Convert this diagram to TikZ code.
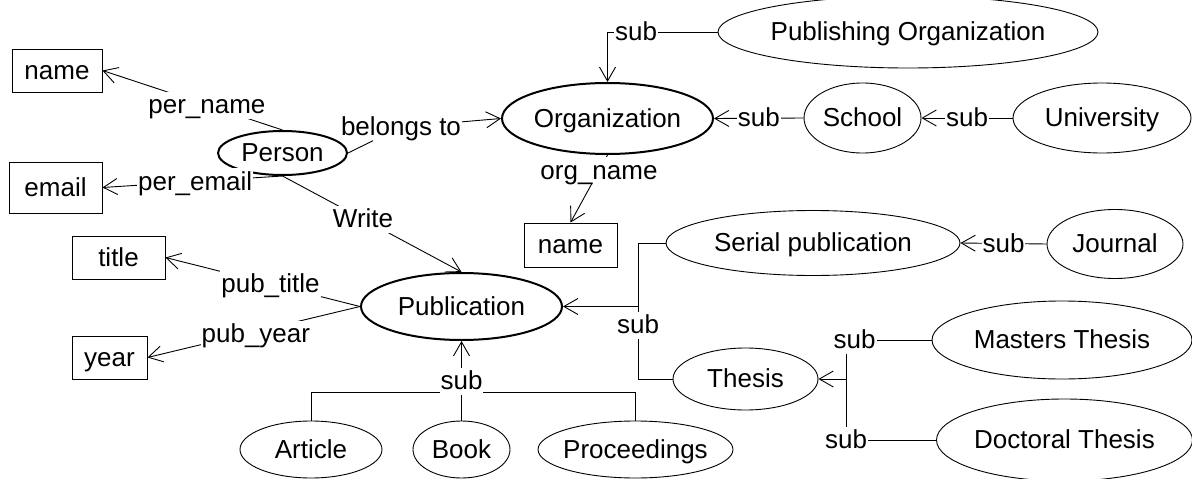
\documentclass[tikz,border=0pt]{standalone}
\usepackage{fontspec}
\setmainfont{Liberation Sans}
\usetikzlibrary{arrows.meta,shapes.geometric}
\begin{document}
\begin{tikzpicture}[x=1pt,y=-1pt,
  every node/.style={font=\fontsize{26}{30}\selectfont, text height=22pt, text depth=5pt},
  ent/.style={draw, ellipse, inner sep=0pt, line width=0.9pt},
  mainent/.style={ent, line width=2pt},
  attr/.style={draw, rectangle, inner sep=0pt, line width=0.9pt},
  conn/.style={line width=0.9pt},
  arr/.style={conn, -{Straight Barb[length=14pt,width=16pt]}},
  lbl/.style={fill=white, inner xsep=1pt, inner ysep=0pt},
]
\useasboundingbox (0,0) rectangle (1192,479);

% attribute boxes
\node[attr, minimum width=90pt, minimum height=43pt] (nameP) at (57,70.5) {name};
\node[attr, minimum width=93pt, minimum height=51pt] (email) at (55.5,187.5) {email};
\node[attr, minimum width=93pt, minimum height=43pt] (title) at (118.5,257.5) {title};
\node[attr, minimum width=75pt, minimum height=43pt] (year) at (109.5,357.5) {year};
\node[attr, minimum width=93pt, minimum height=44pt] (nameO) at (570.5,245) {name};

% entities
\node[mainent, minimum width=129pt, minimum height=44pt] (person) at (282.5,153) {Person};
\node[mainent, minimum width=211pt, minimum height=71pt] (org) at (607.5,118.5) {Organization};
\node[ent, inner xsep=-4pt, minimum width=380pt, minimum height=72pt] (puborg) at (908,32) {Publishing Organization};
\node[ent, minimum width=117pt, minimum height=70pt] (school) at (862.5,118) {School};
\node[ent, minimum width=178pt, minimum height=70pt] (univ) at (1102,118) {University};
\node[ent, minimum width=294pt, minimum height=65pt] (serial) at (813,243) {Serial publication};
\node[ent, minimum width=136pt, minimum height=69pt] (journal) at (1115,244) {Journal};
\node[mainent, minimum width=201pt, minimum height=67pt] (pub) at (461.5,306.5) {Publication};
\node[ent, minimum width=145pt, minimum height=62pt] (thesis) at (745.5,379) {Thesis};
\node[ent, minimum width=260pt, minimum height=78pt] (masters) at (1062,340) {Masters Thesis};
\node[ent, inner xsep=-4pt, minimum width=256pt, minimum height=82pt] (doctoral) at (1064.5,440) {Doctoral Thesis};
\node[ent, minimum width=142pt, minimum height=57pt] (article) at (311,449.5) {Article};
\node[ent, minimum width=97pt, minimum height=57pt] (book) at (461.5,449.5) {Book};
\node[ent, inner xsep=-4pt, minimum width=195pt, minimum height=57pt] (proc) at (635.5,449.5) {Proceedings};

% person connectors
\draw[arr] (person.north) -- node[lbl, pos=0.42] {per\_name} (nameP.east);
\draw[arr] (person.south) -- node[lbl, pos=0.485] {per\_email} (email.east);
\node[lbl] (bt) at (401,127) {belongs to};
\draw[conn] (person.east) -- (bt);
\draw[arr] (bt) -- (org.west);
\draw[arr] (person.south) -- node[lbl, pos=0.45] {Write} (pub.north);

% organization connectors
\draw[arr] (org.south) -- node[lbl, pos=0.23] {org\_name} (nameO.north);
\draw[arr] (puborg.west) -| node[lbl, pos=0.37] {sub} (org.north);
\draw[arr] (school.west) -- node[lbl] {sub} (org.east);
\draw[arr] (univ.west) -- node[lbl] {sub} (school.east);

% publication connectors
\draw[arr] (journal.west) -- node[lbl] {sub} (serial.east);
\coordinate (jp) at (638,306.5);
\draw[conn] (serial.west) -| (jp);
\draw[conn] (thesis.west) -| node[lbl, pos=0.87] {sub} (jp);
\draw[arr] (jp) -- (pub.east);

\coordinate (jt) at (846,379);
\draw[conn] (masters.west) -| node[lbl, pos=0.45] {sub} (jt);
\draw[conn] (doctoral.west) -| node[lbl, pos=0.5] {sub} (jt);
\draw[arr] (jt) -- (thesis.east);

\coordinate (jb) at (461.5,392);
\draw[conn] (article.north) |- (jb);
\draw[conn] (proc.north) |- (jb);
\draw[conn] (book.north) -- (jb);
\draw[arr] (jb) -- node[lbl, pos=0.21] {sub} (pub.south);

\draw[arr] (pub.west) -- node[lbl, pos=0.46] {pub\_title} (title.east);
\draw[arr] (pub.west) -- node[lbl, pos=0.49, yshift=-3pt] {pub\_year} (year.east);
\end{tikzpicture}
\end{document}
